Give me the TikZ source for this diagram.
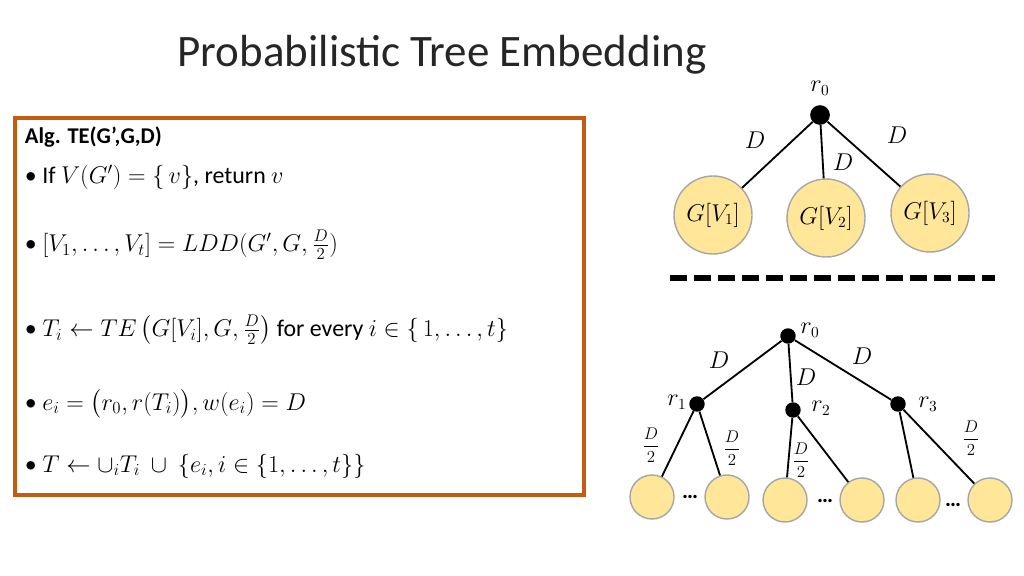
\documentclass[tikz,border=0pt]{standalone}
\usepackage{fontspec}
\usepackage{amsmath,amssymb}
\setmainfont{Carlito}
\definecolor{boxor}{RGB}{197,90,17}
\definecolor{leaf}{RGB}{255,230,153}
\newlength{\pxu}\setlength{\pxu}{0.025cm}
\newcommand{\bul}{\textbullet\ }
\tikzset{
 dot/.style={circle,fill=black,inner sep=0pt,minimum size=14pt},
 sdot/.style={circle,fill=black,inner sep=0pt,minimum size=11pt},
 bigleaf/.style={circle,draw=gray!70,fill=leaf,line width=1pt,minimum size=78\pxu,inner sep=0pt,font=\fontsize{16}{18}\selectfont},
 smleaf/.style={circle,draw=gray!70,fill=leaf,line width=1pt,minimum size=44\pxu,inner sep=0pt},
 edge/.style={line width=1.3pt},
 lbl/.style={font=\fontsize{16}{18}\selectfont},
 line/.style={anchor=west,font=\fontsize{17}{20}\selectfont}
}
\begin{document}
\begin{tikzpicture}[x=0.025cm,y=-0.025cm]
\useasboundingbox (0,0) rectangle (1024,576);
\node[font=\fontsize{32}{36}\selectfont,text=black!85] (title) at (442,55) {Probabilistic Tree Embedding};
\draw[boxor,line width=3pt] (15,118) rectangle (584,495);
\node[line,font=\fontsize{16}{19}\selectfont\bfseries] (h) at (20,137) {Alg. TE(G’,G,D)};
\node[line] (l1) at (20,177) {\bul If $V(G')=\{\,v\}$, return $v$};
\node[line] (l2) at (20,245) {\bul $[V_1,\dots,V_t]=LDD(G',G,\frac{D}{2})$};
\node[line] (l3) at (20,330) {\bul $T_i\leftarrow TE\left(G[V_i],G,\frac{D}{2}\right)$ for every $i\in\{\,1,\dots,t\}$};
\node[line] (l4) at (20,404) {\bul $e_i=\bigl(r_0,r(T_i)\bigr),w(e_i)=D$};
\node[line] (l5) at (20,466) {\bul $T\leftarrow \cup_i T_i\ \cup\ \{e_i,i\in\{1,\dots,t\}\}$};
% top tree
\node[dot] (a0) at (820,115) {};
\node[lbl] (a0l) at (820,88) {$r_0$};
\node[bigleaf] (g1) at (713,215) {$G[V_1]$};
\node[bigleaf] (g2) at (826,218) {$G[V_2]$};
\node[bigleaf] (g3) at (930,213) {$G[V_3]$};
\draw[edge] (a0) -- (g1); \draw[edge] (a0) -- (g2); \draw[edge] (a0) -- (g3);
\node[lbl] at (755,140) {$D$};
\node[lbl] at (897,135) {$D$};
\node[lbl] at (843,162) {$D$};
\coordinate (ds) at (670,278); \coordinate (de) at (995,278);
\draw[line width=4.5pt,dash pattern=on 17\pxu off 7\pxu] (ds) -- (de);
% bottom tree
\node[sdot] (b0) at (788,336) {};
\node[lbl] at (810,330) {$r_0$};
\node[sdot] (b1) at (697,404) {};
\node[lbl] at (677,402) {$r_1$};
\node[sdot] (b2) at (793,410) {};
\node[lbl] at (821,408) {$r_2$};
\node[sdot] (b3) at (898,404) {};
\node[lbl] at (928,404) {$r_3$};
\draw[edge] (b0) -- (b1); \draw[edge] (b0) -- (b2); \draw[edge] (b0) -- (b3);
\node[lbl] at (719,360) {$D$};
\node[lbl] at (862,356) {$D$};
\node[lbl] at (806,377) {$D$};
\node[smleaf] (c1) at (652,497) {};
\node[smleaf] (c2) at (727,497) {};
\node[smleaf] (c3) at (785,500) {};
\node[smleaf] (c4) at (862,500) {};
\node[smleaf] (c5) at (918,500) {};
\node[smleaf] (c6) at (990,500) {};
\draw[edge] (b1) -- (c1); \draw[edge] (b1) -- (c2);
\draw[edge] (b2) -- (c3); \draw[edge] (b2) -- (c4);
\draw[edge] (b3) -- (c5); \draw[edge] (b3) -- (c6);
\node[lbl] at (690,497) {\textbf{\dots}};
\node[lbl] at (825,501) {\textbf{\dots}};
\node[lbl] at (953,505) {\textbf{\dots}};
\node[font=\fontsize{13}{15}\selectfont] at (651,445) {$\dfrac{D}{2}$};
\node[font=\fontsize{13}{15}\selectfont] at (732,448) {$\dfrac{D}{2}$};
\node[font=\fontsize{13}{15}\selectfont] at (801,460) {$\dfrac{D}{2}$};
\node[font=\fontsize{13}{15}\selectfont] at (971,438) {$\dfrac{D}{2}$};
\end{tikzpicture}
\end{document}
